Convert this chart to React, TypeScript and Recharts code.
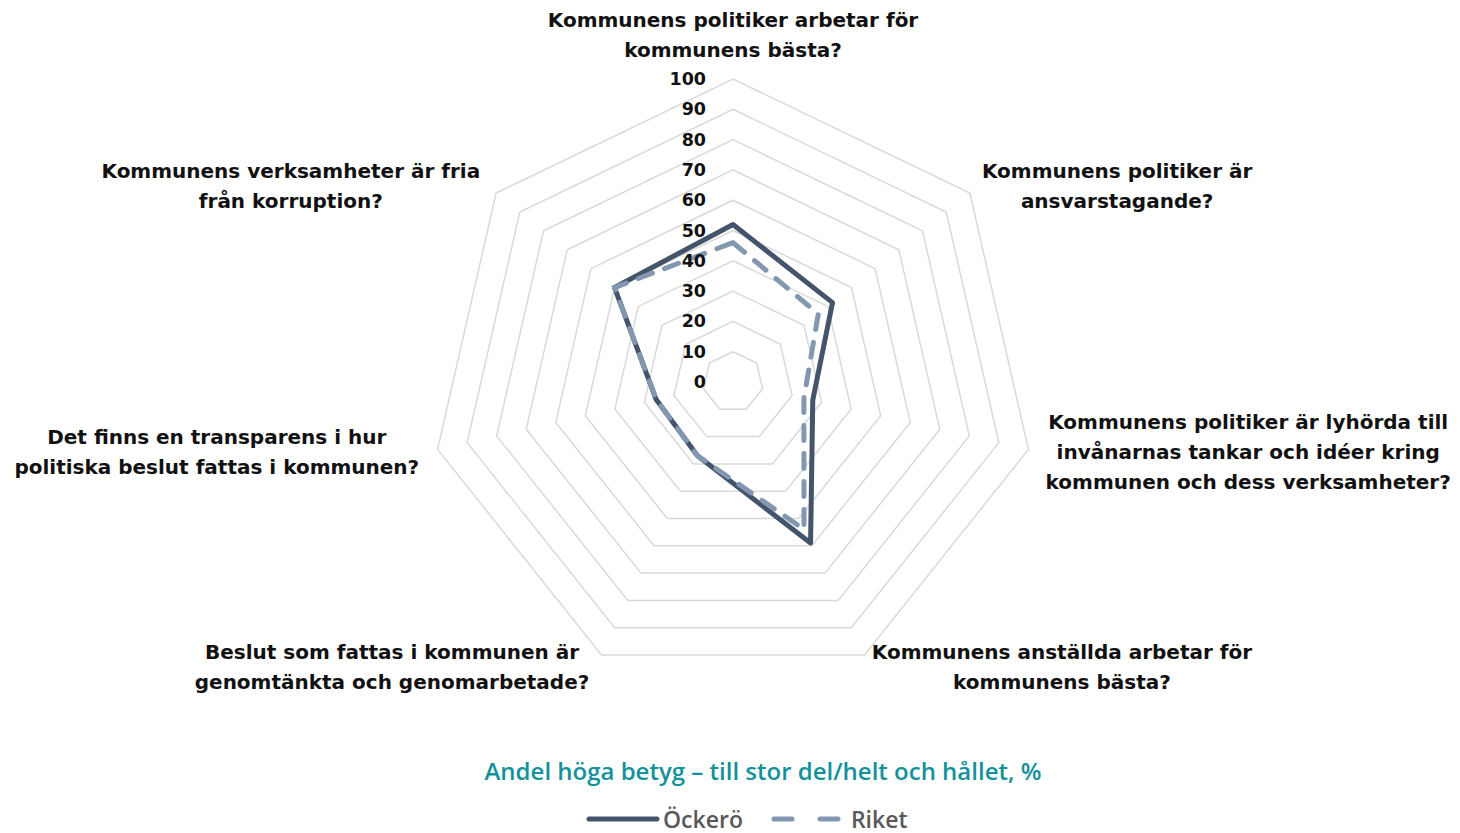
import { RadarChart, Radar, PolarGrid, PolarAngleAxis, PolarRadiusAxis } from 'recharts'

const CATEGORIES = [
  'Kommunens politiker arbetar för\nkommunens bästa?',
  'Kommunens politiker är\nansvarstagande?',
  'Kommunens politiker är lyhörda till\ninvånarnas tankar och idéer kring\nkommunen och dess verksamheter?',
  'Kommunens anställda arbetar för\nkommunens bästa?',
  'Beslut som fattas i kommunen är\ngenomtänkta och genomarbetade?',
  'Det finns en transparens i hur\npolitiska beslut fattas i kommunen?',
  'Kommunens verksamheter är fria\nfrån korruption?',
]
const OCKERO = [52, 42, 27, 59, 27, 26, 50]
const RIKET = [46, 36, 24, 54, 27, 26, 50]
const RADIUS_TICKS = [0, 10, 20, 30, 40, 50, 60, 70, 80, 90, 100]

const TITLE = 'Andel höga betyg – till stor del/helt och hållet, %'
const SERIES_NAMES = ['Öckerö', 'Riket']

// where each label block's centre sits relative to the axis tick point
const LABEL_OFFSETS = [
  { dx: 0, dy: -36 },
  { dx: 141, dy: -2 },
  { dx: 212, dy: 1 },
  { dx: 194, dy: 5 },
  { dx: -206, dy: 5 },
  { dx: -213, dy: 1 },
  { dx: -199, dy: -2 },
]

const LABEL_FONT = '"DejaVu Sans", Verdana, sans-serif'
const FONT = '"Open Sans", "Liberation Sans", Arial, sans-serif'
const DARK = '#44546a'
const LIGHT = '#8497b0'

const data = CATEGORIES.map((c, i) => ({ label: c, ockero: OCKERO[i], riket: RIKET[i] }))

function AngleTick(props: any) {
  const { x, y, payload, index } = props
  const lines = String(payload.value).split('\n')
  const off = LABEL_OFFSETS[index] || { dx: 0, dy: 0 }
  const lh = 30
  const top = y + off.dy - ((lines.length - 1) * lh) / 2
  return (
    <text
      x={x + off.dx}
      y={top}
      textAnchor="middle"
      fill="#111"
      fontFamily={LABEL_FONT}
      fontSize={20}
      fontWeight={700}
    >
      {lines.map((l, i) => (
        <tspan key={i} x={x + off.dx} y={top + i * lh} dominantBaseline="central">
          {l}
        </tspan>
      ))}
    </text>
  )
}

function RadiusTick(props: any) {
  const { x, y, payload } = props
  return (
    <text
      x={x - 27}
      y={y}
      textAnchor="end"
      dominantBaseline="central"
      fill="#111"
      fontFamily={LABEL_FONT}
      fontSize={17.5}
      fontWeight={700}
    >
      {payload.value}
    </text>
  )
}

export default function App() {
  return (
    <div style={{ position: 'absolute', left: 0, top: 0, width: 1460, height: 833, background: '#fff', fontFamily: FONT }}>
      <RadarChart
        width={1460}
        height={833}
        data={data}
        cx={733}
        cy={382}
        outerRadius={303}
        margin={{ top: 0, right: 0, bottom: 0, left: 0 }}
      >
        <PolarGrid gridType="polygon" radialLines={false} stroke="#d9d9d9" strokeWidth={1.5} />
        <PolarAngleAxis dataKey="label" tickLine={false} axisLine={false} tick={<AngleTick />} />
        <PolarRadiusAxis
          angle={90}
          domain={[0, 100]}
          ticks={RADIUS_TICKS}
          axisLine={false}
          tickLine={false}
          tick={<RadiusTick />}
        />
        <Radar
          name={SERIES_NAMES[0]}
          dataKey="ockero"
          stroke={DARK}
          strokeWidth={5}
          strokeLinejoin="round"
          fill="none"
          fillOpacity={0}
          dot={false}
          isAnimationActive={false}
        />
        <Radar
          name={SERIES_NAMES[1]}
          dataKey="riket"
          stroke={LIGHT}
          strokeWidth={5}
          strokeDasharray="15 13"
          strokeLinecap="round"
          fill="none"
          fillOpacity={0}
          dot={false}
          isAnimationActive={false}
        />
      </RadarChart>
      <div
        style={{
          position: 'absolute',
          left: 0,
          width: 1526,
          top: 756,
          textAlign: 'center',
          color: '#14919b',
          fontSize: 24,
          fontWeight: 600,
          lineHeight: '30px',
        }}
      >
        {TITLE}
      </div>
      <div style={{ position: 'absolute', left: 586, top: 804, height: 30, display: 'flex', alignItems: 'center', color: '#595959', fontSize: 23, fontWeight: 600 }}>
        <svg width={74} height={10} style={{ marginRight: 3 }}>
          <line x1={3} y1={5} x2={71} y2={5} stroke={DARK} strokeWidth={5} strokeLinecap="round" />
        </svg>
        <span>{SERIES_NAMES[0]}</span>
        <svg width={70} height={10} style={{ marginLeft: 28, marginRight: 10 }}>
          <line x1={3} y1={5} x2={67} y2={5} stroke={LIGHT} strokeWidth={5} strokeLinecap="round" strokeDasharray="18 28" />
        </svg>
        <span>{SERIES_NAMES[1]}</span>
      </div>
    </div>
  )
}
